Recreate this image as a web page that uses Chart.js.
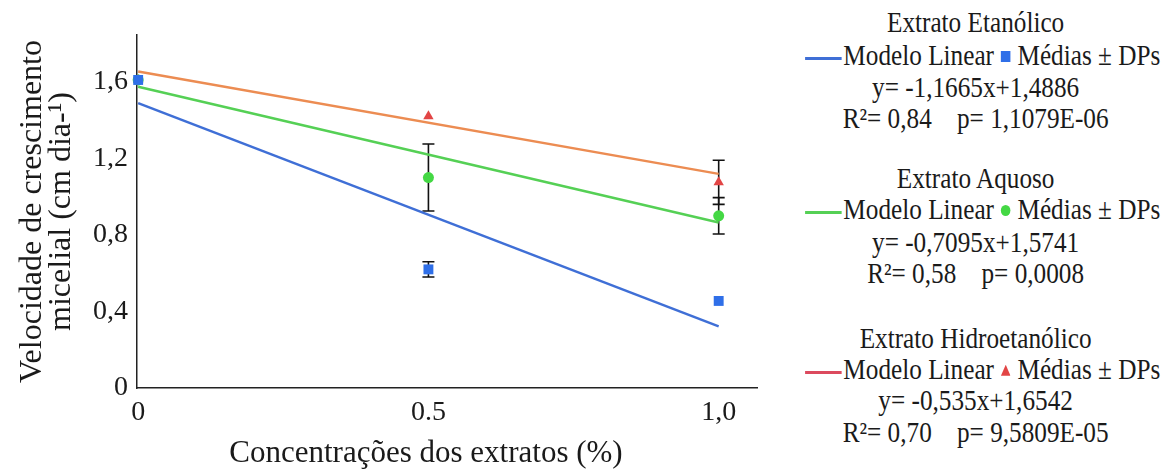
<!DOCTYPE html>
<html>
<head>
<meta charset="utf-8">
<script src="https://cdn.jsdelivr.net/npm/chart.js@4.4.1/dist/chart.umd.min.js"></script>
<style>
  body { margin: 0; background: #fff; font-family: 'Liberation Serif'; }
  #wrap { position: relative; width: 1172px; height: 472px; color: #1a1a1a; }
  #plot { position: absolute; left: 0; top: 0; width: 780px; height: 472px; }
  #xtitle { position: absolute; left: 226px; width: 400px; top: 434px; height: 36px; line-height: 36px;
            font-size: 31px; font-family: 'Liberation Serif'; text-align: center; white-space: nowrap; }
  .leg { position: absolute; left: 780px; width: 392px; height: 31px; line-height: 31px; font-size: 29px;
         font-family: 'Liberation Serif'; text-align: center; white-space: pre;
         transform: scaleX(0.87); transform-origin: 193px 50%; }
  .sw { display: inline-block; width: 42px; height: 3px; vertical-align: middle; margin-right: 2px; }
  .mk { display: inline-block; width: 11px; height: 11px; vertical-align: middle; margin: 0 8px 0 8px; position: relative; top: -2px; }
</style>
</head>
<body>
<div id="wrap">
  <div id="plot"><canvas id="chart" width="780" height="472"></canvas></div>
  <div id="xtitle">Concentrações dos extratos (%)</div>

  <div class="leg" style="top:7px">Extrato Etanólico</div>
  <div class="leg" style="top:40px"><span class="sw" style="background:#3f6fd6"></span>Modelo Linear<span class="mk" style="background:#2f6fe8"></span>Médias ± DPs</div>
  <div class="leg" style="top:72px">y= -1,1665x+1,4886</div>
  <div class="leg" style="top:103px">R²= 0,84    p= 1,1079E-06</div>

  <div class="leg" style="top:163px">Extrato Aquoso</div>
  <div class="leg" style="top:194px"><span class="sw" style="background:#55d055"></span>Modelo Linear<span class="mk" style="background:#44d844;border-radius:50%"></span>Médias ± DPs</div>
  <div class="leg" style="top:227px">y= -0,7095x+1,5741</div>
  <div class="leg" style="top:258px">R²= 0,58    p= 0,0008</div>

  <div class="leg" style="top:323px">Extrato Hidroetanólico</div>
  <div class="leg" style="top:354px"><span class="sw" style="background:#dc4a5e"></span>Modelo Linear<span class="mk" style="background:#e24545;clip-path:polygon(50% 0,100% 100%,0 100%)"></span>Médias ± DPs</div>
  <div class="leg" style="top:385px">y= -0,535x+1,6542</div>
  <div class="leg" style="top:417px">R²= 0,70    p= 9,5809E-05</div>
</div>

<script>
// concentrações (%) e valores
const concentracoes = [0, 0.5, 1.0];
const xTickValues = [0, 0.5, 1.0];
const xTickLabels = ['0', '0.5', '1,0'];

const etanolicoMedias = [1.61, 0.62, 0.455];
const etanolicoDP = [0, 0.04, 0];
const aquosoMedias = [1.61, 1.10, 0.90];
const aquosoDP = [0, 0.175, 0.095];
const hidroMedias = [1.61, 1.42, 1.075];
const hidroDP = [0, 0, 0.115];

// modelo linear nos extremos (x = 0 e x = 1)
const modeloX = [0, 1];
const etanolicoModelo = [1.4886, 0.3221];
const aquosoModelo = [1.5741, 0.8646];
const hidroModelo = [1.6542, 1.1192];

const serif = "'Liberation Serif'";
const toPoints = (xs, ys) => xs.map((x, i) => ({ x: x, y: ys[i] }));

// barras de erro desenhadas pelas escalas do gráfico
const errorBars = {
  id: 'errorBars',
  beforeDatasetsDraw(chart) {
    const { ctx, scales: { x, y } } = chart;
    ctx.save();
    ctx.strokeStyle = '#111';
    ctx.lineWidth = 1.6;
    chart.data.datasets.forEach(ds => {
      if (!ds.dp) return;
      ds.data.forEach((p, i) => {
        const sd = ds.dp[i];
        if (!sd) return;
        const px = x.getPixelForValue(p.x);
        const top = y.getPixelForValue(p.y + sd);
        const bot = y.getPixelForValue(p.y - sd);
        ctx.beginPath();
        ctx.moveTo(px, top); ctx.lineTo(px, bot);
        ctx.moveTo(px - 6, top); ctx.lineTo(px + 6, top);
        ctx.moveTo(px - 6, bot); ctx.lineTo(px + 6, bot);
        ctx.stroke();
      });
    });
    ctx.restore();
  }
};

const ctx = document.getElementById('chart').getContext('2d');

new Chart(ctx, {
  type: 'scatter',
  data: {
    datasets: [
      { label: 'Etanólico médias', data: toPoints(concentracoes, etanolicoMedias), dp: etanolicoDP,
        pointStyle: 'rect', pointRadius: 7, backgroundColor: '#2f6fe8', borderColor: '#2f6fe8', borderWidth: 0, clip: false },
      { label: 'Aquoso médias', data: toPoints(concentracoes, aquosoMedias), dp: aquosoDP,
        pointStyle: 'circle', pointRadius: 5.5, backgroundColor: '#44d844', borderColor: '#44d844', borderWidth: 0, clip: false },
      { label: 'Hidroetanólico médias', data: toPoints(concentracoes, hidroMedias), dp: hidroDP,
        pointStyle: 'triangle', pointRadius: 6, backgroundColor: '#e24545', borderColor: '#e24545', borderWidth: 0, clip: false },
      { label: 'Etanólico modelo', data: toPoints(modeloX, etanolicoModelo), showLine: true,
        pointRadius: 0, borderColor: '#3f6fd6', borderWidth: 2.5 },
      { label: 'Aquoso modelo', data: toPoints(modeloX, aquosoModelo), showLine: true,
        pointRadius: 0, borderColor: '#55d055', borderWidth: 2.5 },
      { label: 'Hidroetanólico modelo', data: toPoints(modeloX, hidroModelo), showLine: true,
        pointRadius: 0, borderColor: '#ec8c52', borderWidth: 2.5 }
    ]
  },
  options: {
    responsive: false,
    animation: false,
    layout: { padding: { left: 18, top: 35, right: 23, bottom: 0 } },
    plugins: { legend: { display: false }, tooltip: { enabled: false } },
    scales: {
      x: {
        type: 'linear',
        min: -0.002,
        max: 1.066,
        afterFit: scale => { scale.height = 84; },
        afterBuildTicks: scale => { scale.ticks = xTickValues.map(v => ({ value: v })); },
        grid: { display: false, drawTicks: false },
        border: { display: true, color: '#222', width: 1.5 },
        ticks: {
          padding: 8,
          color: '#1a1a1a',
          font: { family: serif, size: 28 },
          callback: (value, index) => xTickLabels[index]
        },
        title: { display: false }
      },
      y: {
        min: 0,
        max: 1.845,
        afterFit: scale => { scale.width = 119; },
        grid: { display: false, drawTicks: false },
        border: { display: true, color: '#222', width: 1.5 },
        ticks: {
          stepSize: 0.4,
          includeBounds: false,
          padding: 9,
          color: '#1a1a1a',
          font: { family: serif, size: 28 },
          callback: value => value === 0 ? '0' : value.toFixed(1).replace('.', ',')
        },
        title: {
          display: true,
          text: ['Velocidade de crescimento', 'micelial (cm dia-¹)'],
          color: '#1a1a1a',
          padding: 0,
          font: { family: serif, size: 32, lineHeight: 0.9 }
        }
      }
    }
  },
  plugins: [errorBars]
});
</script>
</body>
</html>
